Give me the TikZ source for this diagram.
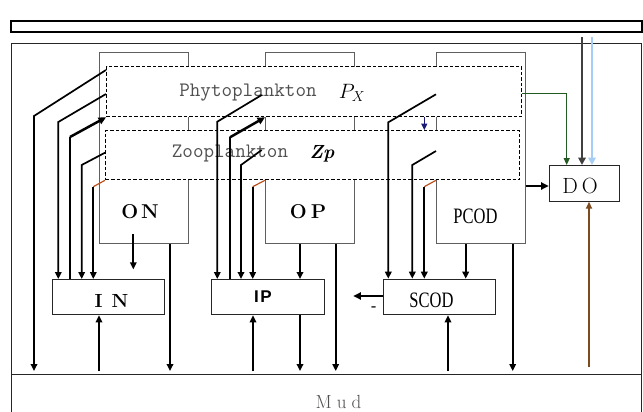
\documentclass[tikz,border=0pt]{standalone}
\usepackage{fontspec}
\newfontfamily\tnr{Liberation Serif}
\newfontfamily\arial{Liberation Sans}
\usetikzlibrary{arrows.meta}
\definecolor{boxgray}{RGB}{95,95,95}
\definecolor{txtgray}{RGB}{80,80,80}
\definecolor{rust}{RGB}{190,80,30}
\definecolor{mudbrown}{RGB}{125,75,30}
\definecolor{navyc}{RGB}{25,25,120}
\definecolor{skyc}{RGB}{165,205,245}
\definecolor{darkg}{RGB}{64,64,64}
\definecolor{greenc}{RGB}{35,90,35}
\begin{document}
\begin{tikzpicture}[x=1pt,y=-1pt,
  graybox/.style={draw=boxgray, line width=0.9pt, anchor=north west, inner sep=0pt, fill=white},
  dashbox/.style={draw=black, dash pattern=on 3.5pt off 2pt, line width=1.3pt, fill=white, anchor=north west, inner sep=0pt},
  solidbox/.style={draw=black!85, line width=1pt, fill=white, anchor=north west, inner sep=0pt},
  flow/.style={line width=1.7pt, -{Triangle[length=7pt,width=6.5pt]}},
  plainline/.style={line width=1.6pt},
  thinline/.style={line width=1.2pt},
  uptake/.style={line width=2.5pt, -{Triangle[length=7.5pt,width=7pt]}},
  tomud/.style={shorten >=3pt},
  frommud/.style={shorten <=3pt},
  lbl/.style={inner sep=0pt}
]
\clip (0,0) rectangle (643,412);
\fill[white] (0,0) rectangle (643,412);

% frame
\node[draw=black, line width=1.8pt, anchor=north west, minimum width=631pt, minimum height=11pt, inner sep=0pt] (topbar) at (10,20) {};
\node[solidbox, minimum width=630pt, minimum height=331.3pt] (water) at (11,42.7) {};
\node[solidbox, minimum width=630pt, minimum height=60pt] (mud) at (11,374) {};
\node[lbl, text=txtgray] (mudtext) at (338.5,402) {\fontsize{19}{22}\selectfont M\hspace{5pt}u\hspace{5pt}d};

% organic matter boxes
\node[graybox, minimum width=89pt, minimum height=191.3pt] (ONbox) at (99,51.7) {};
\node[graybox, minimum width=89pt, minimum height=191.3pt] (OPbox) at (265,51.7) {};
\node[graybox, minimum width=89pt, minimum height=191.3pt] (PCODbox) at (436,51.7) {};

% plankton boxes
\node[dashbox, minimum width=415pt, minimum height=50pt] (phyto) at (106,66) {};
\node[dashbox, minimum width=414pt, minimum height=49pt] (zoo) at (105,130) {};
\node[lbl, text=txtgray] (phytotext) at (248,93) {\fontsize{20.5}{24}\selectfont\ttfamily Phytoplankton};
\node[lbl] (px) at (352,93) {\fontsize{22}{26}\selectfont $P_{X}$};
\node[lbl] (zoo-label) at (230,154) {\color{txtgray}\fontsize{20.5}{24}\selectfont\ttfamily Zooplankton};
\node[lbl] (zp) at (322,154) {\fontsize{19}{22}\selectfont\bfseries\itshape Zp};

% labels of organic boxes
\node[lbl] (ONtext) at (140,212) {\fontsize{20}{24}\selectfont\bfseries O\hspace{3pt}N};
\node[lbl] (OPtext) at (308,212) {\fontsize{20}{24}\selectfont\bfseries O\hspace{4pt}P};
\node[lbl] (PCODtext) at (475.5,216) {\scalebox{0.75}[1]{\fontsize{22}{26}\selectfont\tnr PCOD}};

% inorganic boxes
\node[solidbox, minimum width=112.6pt, minimum height=35.3pt] (IN) at (51.7,279) {};
\node[lbl] (INtext) at (111.5,300.7) {\fontsize{19}{22}\selectfont\bfseries I\hspace{9pt}N};
\node[solidbox, minimum width=112.7pt, minimum height=35.3pt] (IP) at (211.3,279) {};
\node[lbl] (IPtext) at (263,297) {\fontsize{17}{20}\selectfont\arial\bfseries I\hspace{1.5pt}P};
\node[solidbox, minimum width=112pt, minimum height=35.6pt] (SCOD) at (383.3,278.7) {};
\node[lbl] (SCODtext) at (431.5,300) {\scalebox{0.75}[1]{\fontsize{22}{26}\selectfont\tnr SCOD}};
\node[solidbox, minimum width=70.6pt, minimum height=35.7pt] (DO) at (548.7,165) {};
\node[lbl] (DOtext) at (580,186) {\fontsize{22}{26}\selectfont D\hspace{4pt}O};

% ---------- left group (IN) ----------
\draw[flow, tomud] (phyto.west |- 0,70) -- (34,116) -- (mud.north -| 34,0);
\draw[flow] (phyto.west |- 0,94) -- (58.3,122) -- (IN.north -| 58.3,0);
\draw[plainline] (IN.north -| 70,0) -- (70,137) coordinate (u1);
\draw[uptake] (u1) -- (phyto.south west);
\draw[flow] (zoo.west |- 0,152.7) -- (81.7,165) -- (IN.north -| 81.7,0);
\draw[thinline, rust] (zoo.south west) -- (93.3,186.7) coordinate (b1);
\draw[flow] (b1) -- (IN.north -| 93.3,0);
\coordinate (onout) at (133.3,234);
\draw[flow] (onout) -- (133.3,269.3) coordinate (onin);
\draw[flow, frommud] (mud.north -| 99,0) -- (IN.south -| 99,0);
\draw[flow, tomud] (ONbox.south -| 170,0) -- (mud.north -| 170,0);

% ---------- middle group (IP) ----------
\coordinate (m1s) at (261.7,95);
\coordinate (m3s) at (261.7,150);
\draw[flow] (m1s) -- (217.3,121.7) -- (IP.north -| 217.3,0);
\draw[plainline] (IP.north -| 230,0) -- (230,137.3) coordinate (u2);
\draw[uptake] (u2) -- (OPbox.west |- phyto.south);
\draw[flow] (m3s) -- (241,165) -- (IP.north -| 241,0);
\draw[thinline, rust] (OPbox.west |- zoo.south) -- (252.7,186.7) coordinate (b2);
\draw[flow] (b2) -- (IP.north -| 252.7,0);
\draw[flow] (OPbox.south -| 300,0) -- (IP.north -| 300,0);
\draw[flow, tomud] (IP.south -| 300,0) -- (mud.north -| 300,0);
\draw[flow, frommud] (mud.north -| 253,0) -- (IP.south -| 253,0);
\draw[flow, tomud] (OPbox.south -| 335.7,0) -- (mud.north -| 335.7,0);

% ---------- right group (SCOD) ----------
\draw[flow] (PCODbox.west |- 0,94.3) -- (388.3,122.3) -- (SCOD.north -| 388.3,0);
\draw[flow] (PCODbox.west |- 0,151) -- (412.3,165) -- (SCOD.north -| 412.3,0);
\draw[thinline, rust] (PCODbox.west |- zoo.south) -- (424.3,186.7) coordinate (b3);
\draw[flow] (b3) -- (SCOD.north -| 424.3,0);
\draw[flow] (PCODbox.south -| 465.7,0) -- (SCOD.north -| 465.7,0);
\draw[flow, tomud] (PCODbox.south -| 512.7,0) -- (mud.north -| 512.7,0);
\draw[flow, frommud] (mud.north -| 448,0) -- (SCOD.south -| 448,0);
\coordinate (scodout) at (353.3,296);
\draw[line width=2.3pt, -{Triangle[length=7.5pt,width=7pt]}] (SCOD.west |- scodout) -- (scodout);
\node[lbl] (minus) at (374,309) {\fontsize{14}{16}\selectfont\bfseries -};

% phyto -> zoo
\draw[line width=1.3pt, navyc, -{Triangle[length=6.5pt,width=6pt]}] (phyto.south -| 424.3,0) -- (zoo.north -| 424.3,0);

% ---------- DO ----------
\draw[line width=1.3pt, greenc, -{Triangle[length=7pt,width=6pt]}] (phyto.east |- 0,93.3) -- (566.7,93.3) -- (DO.north -| 566.7,0);
\coordinate (reaer1) at (582,37.3);
\coordinate (reaer2) at (592,37.3);
\draw[line width=2.8pt, darkg, -{Triangle[length=7.5pt,width=7.5pt]}] (reaer1) -- (DO.north -| reaer1);
\draw[line width=2.8pt, skyc, -{Triangle[length=7.5pt,width=7.5pt]}] (reaer2) -- (DO.north -| reaer2);
\draw[line width=2.3pt, -{Triangle[length=7.5pt,width=7pt]}] (PCODbox.east |- 0,186) -- (DO.west |- 0,186);
\coordinate (sod) at (589,366.7);
\draw[line width=1.8pt, mudbrown, -{Triangle[length=7pt,width=6pt]}] (sod) -- (DO.south -| sod);
\end{tikzpicture}
\end{document}
